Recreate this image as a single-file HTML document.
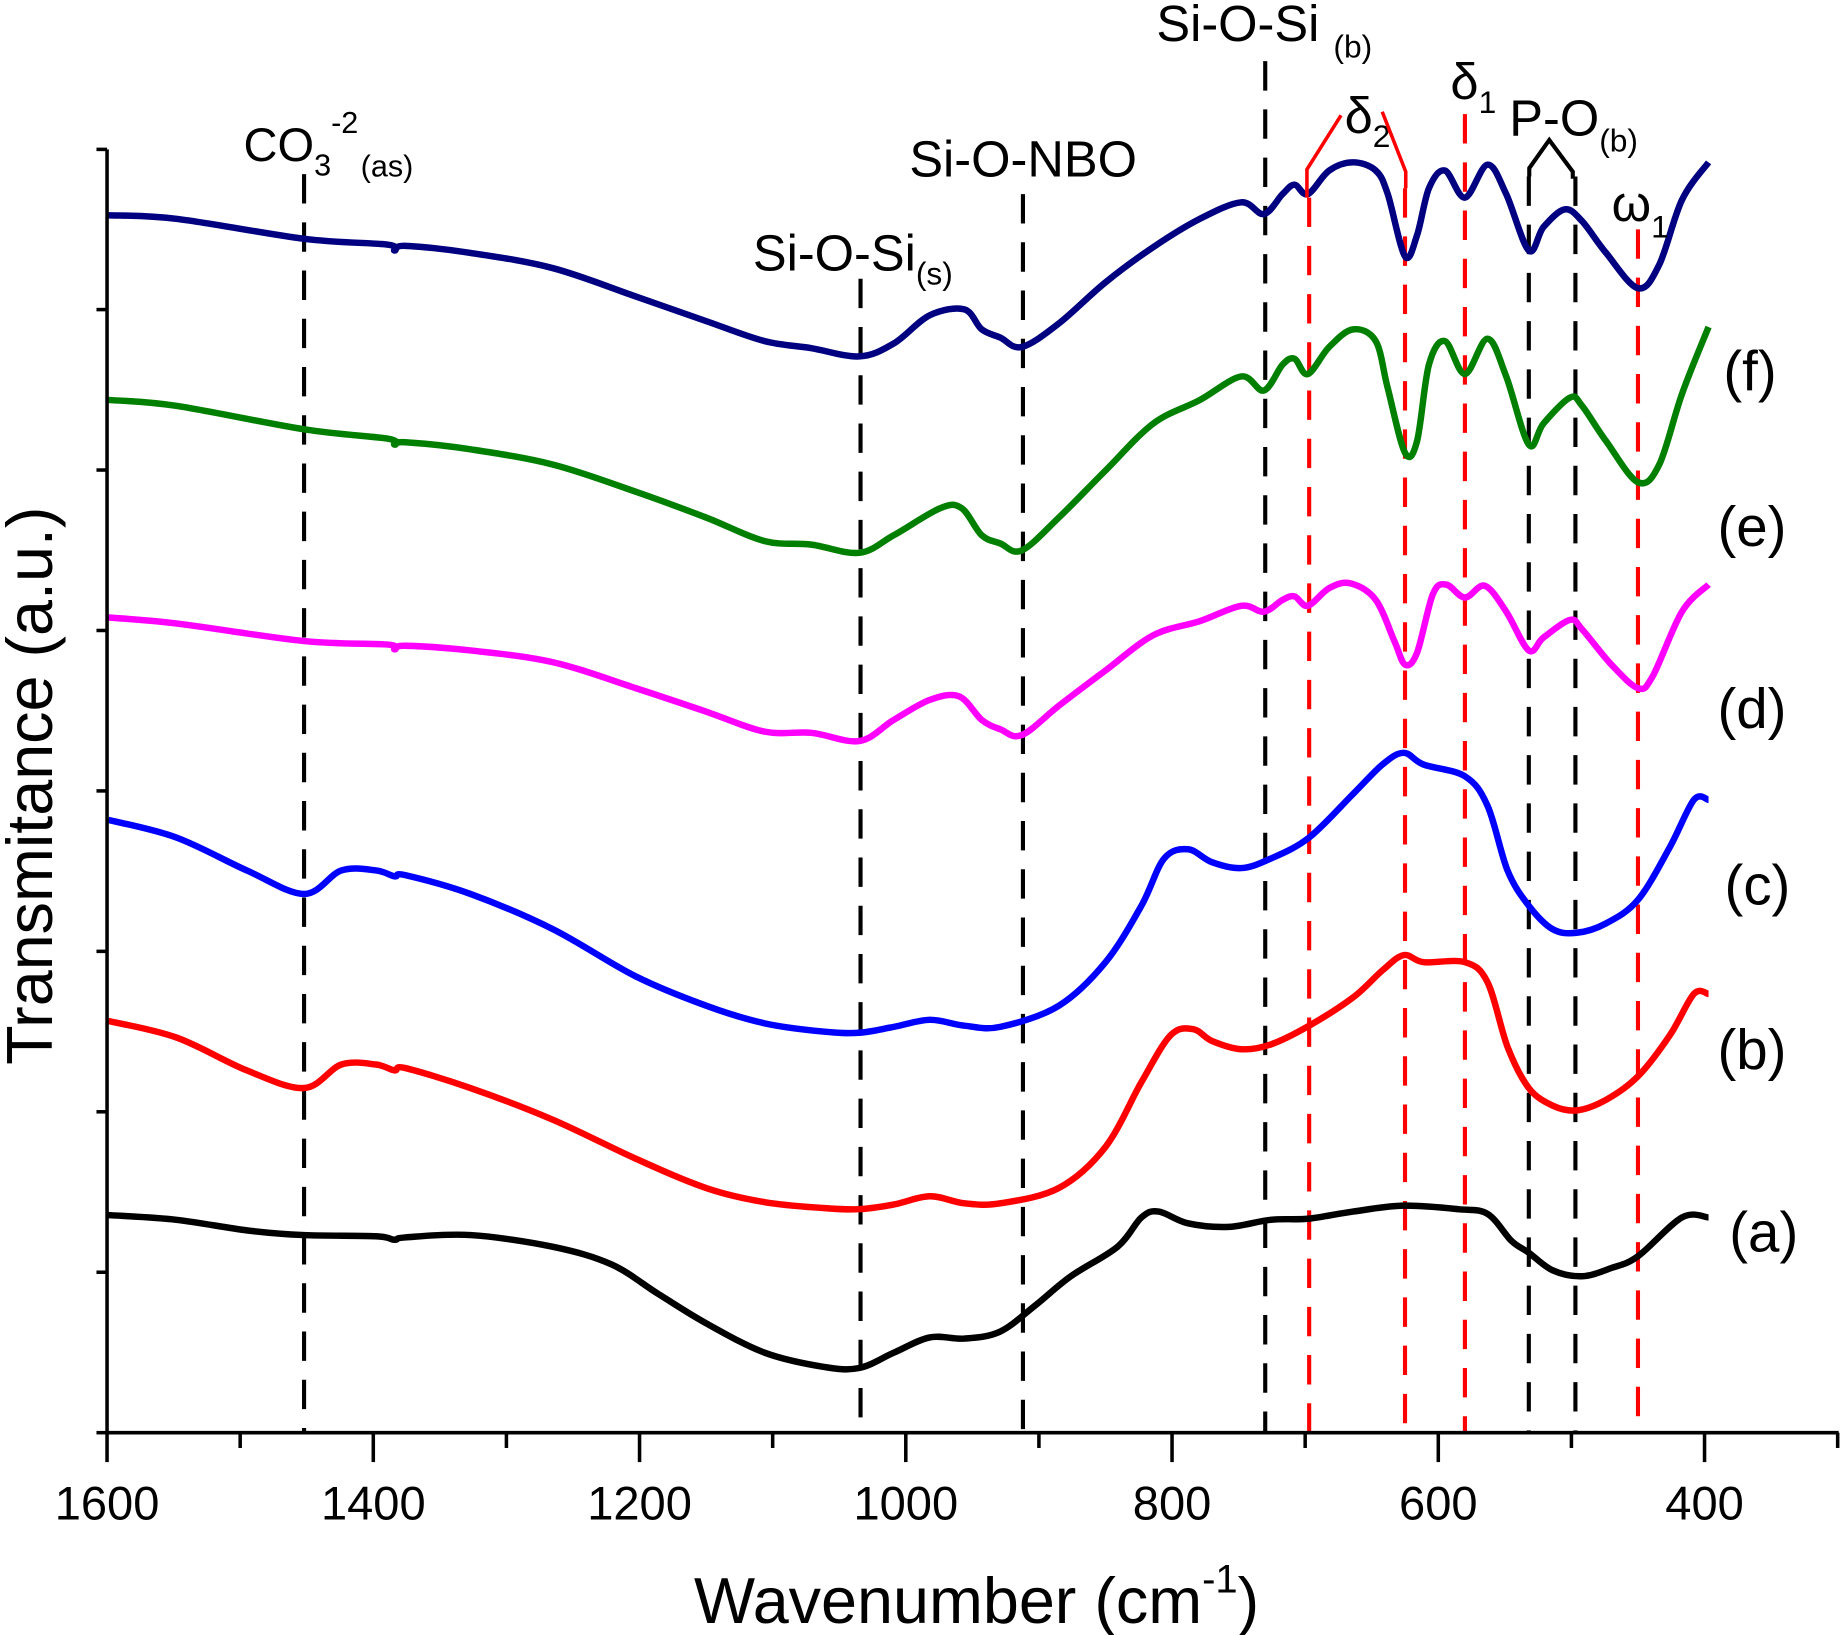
<!DOCTYPE html>
<html><head><meta charset="utf-8"><style>
html,body{margin:0;padding:0;background:#fff;}
svg{display:block;}
text{font-family:"Liberation Sans",Arial,sans-serif;fill:#000;}
</style></head><body>
<svg id="chart" width="1841" height="1635" viewBox="0 0 1565 1390" preserveAspectRatio="none" xmlns="http://www.w3.org/2000/svg">
<g id="dash"></g>
<g id="series"></g>
<g id="axes"></g>
<g id="annot">
 <text x="207" y="137" font-size="40">CO<tspan font-size="26" dy="12">3</tspan><tspan font-size="26" dy="-36">-2</tspan><tspan font-size="26" dy="37" dx="2">(as)</tspan></text>
 <text x="773" y="150" font-size="43">Si-O-NBO</text>
 <text x="640" y="230" font-size="43">Si-O-Si<tspan font-size="27" dy="12">(s)</tspan></text>
 <text x="983" y="35" font-size="43">Si-O-Si <tspan font-size="27" dy="14">(b)</tspan></text>
 <text x="1143" y="113" font-size="43">δ<tspan font-size="27" dy="12">2</tspan></text>
 <text x="1233" y="84" font-size="43">δ<tspan font-size="27" dy="12">1</tspan></text>
 <text x="1283" y="115" font-size="43">P-O<tspan font-size="27" dy="14">(b)</tspan></text>
 <text x="1370" y="188" font-size="43">ω<tspan font-size="27" dy="14">1</tspan></text>
 <polyline points="1111,168 1111,144 1140,98" fill="none" stroke="#ff0000" stroke-width="3"/>
 <polyline points="1175,95 1195,146 1195,160" fill="none" stroke="#ff0000" stroke-width="3"/>
 <polyline points="1300,150 1300,143 1317,119 1337,146 1337,152" fill="none" stroke="#000" stroke-width="3.5"/>
 <text x="1465" y="332" font-size="48">(f)</text>
 <text x="1460" y="464" font-size="48">(e)</text>
 <text x="1460" y="619" font-size="48">(d)</text>
 <text x="1466" y="769" font-size="48">(c)</text>
 <text x="1460" y="909" font-size="48">(b)</text>
 <text x="1470" y="1064" font-size="48">(a)</text>
 <text transform="translate(44,668) rotate(-90)" text-anchor="middle" font-size="55">Transmitance (a.u.)</text>
 <text x="590" y="1380" font-size="55">Wavenumber (cm<tspan font-size="34" dy="-26">-1</tspan><tspan dy="26">)</tspan></text>
</g>
</svg>
<script>
const xTicks = [1600,1400,1200,1000,800,600,400];
const xMinorTicks = [1500,1300,1100,900,700,500,300];
const yTicks = [0,136.4,272.8,409.2,545.6,682,818.4,954.8,1091];
const guideBlack = [1452,1034,912,730,532,497];
const guideRed = [697,625,580,450];
const guideTopBlack = [148,237,165,52,150,150];
const guideTopRed = [168,160,97,195];

const wnF = [1599,1548,1452,1389,1384,1376,1327,1265,1203,1150,1106,1071,1035,1009,982,956,943,929,913,885,850,814,779,748,731,717,708,698,682,664,647,638,625,616,607,595,580,563,549,532,521,505,492,474,450,434,417,397];
const tF = [1035,1032,1015,1010,1005,1009,1003,990,966,945,928,922,915,926,950,955,938,931,923,943,978,1008,1032,1046,1036,1053,1061,1053,1073,1080,1073,1053,1000,1018,1058,1073,1050,1078,1053,1005,1025,1040,1030,1003,973,993,1048,1080];
const wnE = [1599,1548,1452,1389,1384,1376,1327,1265,1203,1150,1106,1071,1035,1009,974,958,943,929,913,885,850,814,779,748,731,717,708,698,682,664,647,638,625,616,607,595,580,563,549,532,521,501,492,474,450,434,417,397];
const tE = [878,873,853,845,840,842,836,823,800,778,758,755,748,763,786,786,763,756,750,778,818,858,878,898,886,908,913,900,923,938,928,888,833,843,908,928,900,930,898,840,858,880,873,843,808,823,883,940];
const wnD = [1599,1548,1452,1389,1384,1376,1327,1265,1203,1150,1106,1071,1035,1009,982,960,943,929,913,885,850,814,779,748,731,717,708,698,682,666,647,633,625,616,604,594,580,565,549,532,521,501,492,470,450,439,417,397];
const tD = [693,688,673,670,666,669,665,655,633,613,596,595,588,606,623,626,606,598,593,618,648,678,690,703,698,708,711,703,718,722,708,673,653,663,713,721,710,720,698,665,676,691,683,653,633,643,698,721];
const wnC = [1599,1548,1495,1452,1424,1398,1384,1376,1327,1265,1203,1150,1106,1062,1035,1009,982,956,929,885,850,823,806,788,770,748,726,697,664,642,626,611,580,563,548,532,514,496,474,450,426,408,397];
const tC = [521,506,478,458,478,478,473,474,458,428,388,363,348,341,340,345,351,346,345,363,400,448,488,496,485,480,488,506,543,568,578,568,558,533,478,448,428,425,433,453,498,538,538];
const wnB = [1599,1548,1495,1452,1424,1398,1384,1376,1327,1265,1203,1150,1106,1062,1035,1009,982,956,929,885,850,823,801,784,770,748,726,697,664,642,626,611,580,563,548,532,514,496,474,450,426,408,397];
const tB = [350,336,308,293,313,313,308,310,293,266,233,208,196,191,190,194,201,195,195,208,243,298,338,343,333,326,330,346,370,393,406,400,400,383,328,293,278,274,283,303,338,373,373];
const wnA = [1599,1548,1495,1452,1398,1384,1376,1327,1265,1221,1186,1150,1106,1062,1035,1009,982,956,929,903,876,841,823,810,788,757,726,697,664,626,585,563,545,532,514,492,470,450,417,397];
const tA = [185,181,172,168,167,164,166,168,158,143,118,93,68,56,55,68,81,80,86,108,133,158,183,188,178,175,181,182,188,193,190,186,163,153,138,133,140,150,183,183];

const NS = "http://www.w3.org/2000/svg";
const X0 = 91, X1 = 1449, Y0 = 1218;
function xs(v){ return X0 + (1600 - v) * (X1 - X0) / 1200; }
function ys(t){ return Y0 - t; }
function mk(tag, attrs, parent){
  const e = document.createElementNS(NS, tag);
  for (const k in attrs) e.setAttribute(k, attrs[k]);
  parent.appendChild(e); return e;
}
function smoothPath(px, py){
  let d = "M" + px[0].toFixed(1) + "," + py[0].toFixed(1);
  for (let i = 0; i < px.length - 1; i++){
    const x0 = px[Math.max(0,i-1)], y0 = py[Math.max(0,i-1)];
    const x1 = px[i], y1 = py[i], x2 = px[i+1], y2 = py[i+1];
    const x3 = px[Math.min(px.length-1,i+2)], y3 = py[Math.min(px.length-1,i+2)];
    const c1x = x1 + (x2-x0)/6, c1y = y1 + (y2-y0)/6;
    const c2x = x2 - (x3-x1)/6, c2y = y2 - (y3-y1)/6;
    d += " C" + c1x.toFixed(1) + "," + c1y.toFixed(1) + " " + c2x.toFixed(1) + "," + c2y.toFixed(1) + " " + x2.toFixed(1) + "," + y2.toFixed(1);
  }
  return d;
}
const dashG = document.getElementById("dash");
guideBlack.forEach((w, i) => {
  const l = mk("line", {x1: xs(w), x2: xs(w), y1: guideTopBlack[i], y2: Y0, stroke: "#000", "stroke-width": 3.5, "stroke-dasharray": "25 16"}, dashG);
  
  
});
guideRed.forEach((w, i) => {
  const l = mk("line", {x1: xs(w), x2: xs(w), y1: guideTopRed[i], y2: Y0, stroke: "#ff0000", "stroke-width": 3.5, "stroke-dasharray": "25 16"}, dashG);
  
  
});
const seriesG = document.getElementById("series");
const seriesList = [
  ["a", wnA, tA, "#000000"], ["b", wnB, tB, "#ff0000"], ["c", wnC, tC, "#0000ff"],
  ["d", wnD, tD, "#ff00ff"], ["e", wnE, tE, "#007f00"], ["f", wnF, tF, "#000080"]
];
seriesList.forEach(s => {
  const p = mk("path", {d: smoothPath(s[1].map(xs), s[2].map(ys)), fill: "none", stroke: s[3], "stroke-width": 5.5, "stroke-linejoin": "round", "stroke-linecap": "butt"}, seriesG);
  
  
});
const axG = document.getElementById("axes");
const xa = mk("line", {x1: X0, x2: 1563, y1: Y0, y2: Y0, stroke: "#000", "stroke-width": 3}, axG);


const ya = mk("line", {x1: X0, x2: X0, y1: ys(yTicks[yTicks.length-1]), y2: Y0, stroke: "#000", "stroke-width": 3}, axG);


xTicks.forEach(v => {
  const t = mk("line", {x1: xs(v), x2: xs(v), y1: Y0, y2: Y0 + 25, stroke: "#000", "stroke-width": 3}, axG);
  
  
  const tx = mk("text", {x: xs(v), y: 1292, "text-anchor": "middle", "font-size": 40}, axG);
  tx.textContent = v;
  
  
});
xMinorTicks.forEach(v => {
  const t = mk("line", {x1: xs(v), x2: xs(v), y1: Y0, y2: Y0 + 13, stroke: "#000", "stroke-width": 3}, axG);
  
  
});
yTicks.forEach(v => {
  const t = mk("line", {x1: X0 - 9, x2: X0, y1: ys(v), y2: ys(v), stroke: "#000", "stroke-width": 3}, axG);
  
  
});
</script>
</body></html>
